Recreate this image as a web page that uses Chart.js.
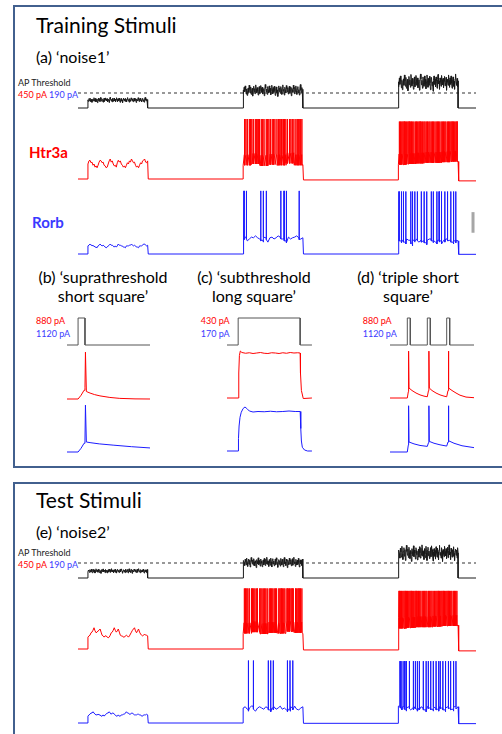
<!DOCTYPE html>
<html>
<head>
<meta charset="utf-8">
<title>Training and test stimuli</title>
<script src="https://cdn.jsdelivr.net/npm/chart.js@4.4.1/dist/chart.umd.min.js"></script>
<style>
  html, body { margin: 0; padding: 0; background: #fff; }
  body { width: 502px; height: 734px; position: relative; overflow: hidden; font-family: Lato, "Open Sans", sans-serif; color: #000; }
  .box { position: absolute; border: 2px solid #42608e; }
  .t { position: absolute; white-space: nowrap; line-height: 1; }
  .h1 { font-size: 21px; }
  .h2 { font-size: 16px; }
  .sm { font-size: 9px; color: #222; }
  .cell { font-size: 15px; font-weight: bold; }
  .sub { position: absolute; width: 180px; text-align: center; font-size: 16px; line-height: 18.5px; }
  .red { color: #ff0000; }
  .blue { color: #3a3aff; }
  canvas { position: absolute; }
</style>
</head>
<body>
<div class="box" style="left:13px; top:5px; width:520px; height:459px;"></div>
<div class="box" style="left:13px; top:482px; width:520px; height:300px;"></div>

<div class="t h1" style="left:36px; top:14px;">Training Stimuli</div>
<div class="t h2" style="left:36px; top:49px;">(a) ‘noise1’</div>
<div class="t sm" style="left:18px; top:78px;">AP Threshold</div>
<div class="t sm" style="left:18px; top:89.5px;"><span class="red">450 pA</span> <span class="blue">190 pA</span></div>
<div class="t cell red" style="left:29px; top:145px;">Htr3a</div>
<div class="t cell blue" style="left:32px; top:215px;">Rorb</div>

<div class="sub" style="left:13px; top:268px;">(b) ‘suprathreshold<br>short square’</div>
<div class="sub" style="left:164px; top:268px;">(c) ‘subthreshold<br>long square’</div>
<div class="sub" style="left:318px; top:268px;">(d) ‘triple short<br>square’</div>
<div class="t sm red" style="left:36px; top:316px;">880 pA</div>
<div class="t sm blue" style="left:36px; top:328.7px;">1120 pA</div>
<div class="t sm red" style="left:200.7px; top:316px;">430 pA</div>
<div class="t sm blue" style="left:200.7px; top:328.7px;">170 pA</div>
<div class="t sm red" style="left:362.7px; top:316px;">880 pA</div>
<div class="t sm blue" style="left:362.7px; top:328.7px;">1120 pA</div>

<div class="t h1" style="left:36px; top:489px;">Test Stimuli</div>
<div class="t h2" style="left:36px; top:524px;">(e) ‘noise2’</div>
<div class="t sm" style="left:18px; top:548px;">AP Threshold</div>
<div class="t sm" style="left:18px; top:559.7px;"><span class="red">450 pA</span> <span class="blue">190 pA</span></div>

<script>
// ---------- noise stimuli (time in s, current in pA) ----------
const noiseEpochs = [[0.5, 3.5], [8.3, 11.3], [16.1, 19.1]];
const noiseEnd = 20;
const apThreshold = 450;
const noise1Amp = [230, 510, 740];
const noise2Amp = [200, 445, 710];
// noise as percent of the epoch amplitude
const noise1Pct = [6,-14,22,-4,30,8,-18,12,-26,4,18,-8,34,10,-12,24,-20,2,16,-30,8,28,-6,14,-16,36,12,-10,20,-2,-24,10,26,-14,4,32,16,-8,22,-18,
  2,14,-28,8,38,18,-6,12,-20,26,4,-12,30,-4,16,-22,6,34,10,-16,20,-8,28,2,-26,14,24,-10,6,-32,12,30,-4,18,-14,26,8,-20,16,36,
  -2,10,-24,22,4,-12,32,14,-6,20,-18,8,28,-10,2,24,-28,16,6,-8,34,12,-16,22,-4,30,0,-20,14,26,-12,8,-24,18,38,4,-8,20,-14,10];
const noise2Pct = [-6,18,4,-16,26,10,-12,34,2,-22,14,28,-8,20,-26,6,38,12,-4,22,-14,30,8,-18,16,2,-30,24,12,-6,36,-10,18,4,-20,28,14,-2,-24,10,
  22,-12,32,6,-16,26,-4,40,16,-8,12,-22,24,2,-14,34,8,-26,18,30,-6,14,-18,4,28,-10,36,20,-2,-28,12,24,-8,16,-20,32,6,-12,26,10,
  -24,18,38,-4,8,-16,28,14,-30,20,2,-10,34,12,-6,24,-18,6,30,-14,16,40,-2,10,-22,26,8,-12,20,-8,32,4,-26,14,22,-4,18,-16,28,6];

// ---------- Htr3a responses (mV) ----------
const htr3aN1Rest = [-72, -72, -73.5, -75];
const htr3aN1Sub = [-48,-43,-42,-46,-45,-50,-48,-53,-51,-54,-50,-45,-42,-43,-46,-45,-50,-51,-54,-53,
  -48,-43,-40,-45,-43,-48,-51,-50,-53,-46,-42,-45,-43,-48,-50,-53,-51,-54,-50,-46,
  -48,-43,-45,-40,-43,-46,-45,-50,-53,-51,-54,-50,-46,-48,-43,-42,-40,-45,-46,-43];
const htr3aN1Base2 = [-50, -48, -51, -49, -50, -47, -50, -49];
const htr3aN1Spikes2 = [8.36,8.43,8.5,8.6,8.66,8.73,8.8,8.9,8.97,9.04,9.11,9.2,9.27,9.34,9.45,9.52,9.59,9.66,9.75,9.82,
  9.89,9.99,10.06,10.13,10.2,10.3,10.37,10.44,10.52,10.62,10.69,10.76,10.84,10.94,11.01,11.08,11.15,11.24];
const htr3aN1Base3 = [-49, -48, -47, -46, -46, -45, -44, -44];
const htr3aN1Spikes3 = [16.14,16.2,16.26,16.32,16.38,16.44,16.5,16.57,16.63,16.69,16.75,16.81,16.87,16.94,17.0,17.06,17.12,17.18,
  17.24,17.31,17.37,17.43,17.49,17.55,17.62,17.68,17.74,17.8,17.86,17.93,17.99,18.05,18.11,18.17,18.24,18.3,18.36,18.42,
  18.48,18.55,18.61,18.67,18.73,18.79,18.86,18.92,18.98,19.04];
const htr3aN1Peak = [24, 20];

const htr3aN2Rest = [-72, -72, -73.5, -75];
const htr3aN2Sub = [-53,-51,-50,-46,-45,-42,-38,-43,-46,-45,-43,-42,-40,-45,-50,-51,-53,-51,-51,-53,
  -54,-53,-50,-46,-45,-42,-38,-42,-45,-43,-40,-45,-50,-51,-51,-53,-53,-51,-50,-51,
  -53,-51,-48,-45,-42,-40,-38,-43,-46,-43,-40,-45,-48,-50,-51,-50,-48,-50,-50,-51];
const htr3aN2Base2 = [-47, -45, -48, -46, -47, -44, -46, -47];
const htr3aN2Spikes2 = [8.35,8.41,8.47,8.53,8.6,8.7,8.76,8.82,8.88,8.95,9.01,9.12,9.18,9.24,9.3,9.37,9.43,9.5,9.6,9.66,9.72,
  9.78,9.85,9.91,9.97,10.08,10.14,10.2,10.26,10.33,10.39,10.5,10.56,10.62,10.69,10.75,10.81,10.92,10.98,11.04,11.1,11.17,11.24];
const htr3aN2Base3 = [-39, -38, -37, -37, -36, -35, -35, -34];
const htr3aN2Spikes3 = [16.13,16.19,16.25,16.31,16.37,16.43,16.49,16.55,16.61,16.67,16.73,16.79,16.86,16.92,16.98,17.04,17.1,
  17.16,17.22,17.29,17.35,17.41,17.47,17.53,17.6,17.66,17.72,17.78,17.84,17.91,17.97,18.03,18.09,18.16,18.22,18.28,18.34,
  18.41,18.47,18.53,18.59,18.66,18.72,18.78,18.85,18.91,18.97,19.03];
const htr3aN2Peak = [25, 21];

// ---------- Rorb responses (mV) ----------
const rorbN1Rest = [-75, -75, -75, -75.5];
const rorbN1Sub = [-62,-61,-59,-61,-61,-62,-62,-64,-64,-65,-62,-61,-59,-61,-62,-61,-62,-64,-65,-64,
  -62,-61,-59,-61,-61,-62,-64,-62,-64,-62,-59,-61,-61,-62,-62,-64,-64,-65,-62,-62,
  -62,-61,-61,-59,-61,-62,-61,-62,-64,-64,-65,-62,-62,-62,-61,-59,-59,-61,-62,-61];
const rorbN1Base2 = [-49,-48,-54,-51,-48,-49,-46,-49,-51,-53,-48,-49,-56,-49,-48,-51,-49,-46,-48,-51,-54,-49,-48,-51,-49,-48,-46,-49,-51,-49];
const rorbN1Spikes2 = [8.34, 8.46, 9.18, 9.30, 9.46, 10.19, 10.35, 10.47, 11.11];
const rorbN1Base3 = [-51,-54,-53,-56,-51,-53,-59,-53,-54,-51,-56,-53,-54,-57,-53,-51,-54,-53,-56,-53,-54,-59,-53,-51,-54,-53,-56,-54,-53,-54];
const rorbN1Spikes3 = [16.13,16.25,16.35,16.47,16.72,16.80,16.92,17.05,17.25,17.39,17.52,17.75,17.85,18.03,18.14,18.26,18.43,18.56,18.73,18.86,18.98];
const rorbN1Peak = [26, 25];

const rorbN2Rest = [-75, -75, -75.5, -76];
const rorbN2Sub = [-64,-62,-61,-59,-59,-57,-59,-61,-62,-62,-61,-62,-62,-64,-64,-62,-64,-62,-61,-59,
  -59,-57,-59,-61,-59,-59,-61,-62,-64,-64,-62,-64,-64,-62,-62,-61,-61,-59,-57,-59,
  -59,-61,-61,-59,-59,-61,-62,-62,-62,-61,-61,-62,-62,-64,-64,-62,-62,-62,-61,-62];
const rorbN2Base2 = [-51,-49,-53,-51,-48,-53,-56,-51,-49,-51,-53,-49,-51,-54,-51,-49,-53,-51,-48,-53,-51,-54,-53,-49,-51,-48,-53,-54,-51,-49];
const rorbN2Spikes2 = [8.56, 8.81, 9.56, 9.68, 9.81, 10.52, 10.65, 10.79];
const rorbN2Base3 = [-48,-51,-49,-53,-51,-49,-54,-51,-49,-53,-51,-49,-51,-54,-49,-51,-53,-49,-51,-53,-49,-51,-54,-51,-49,-51,-53,-49,-51,-49];
const rorbN2Spikes3 = [16.18,16.27,16.38,16.48,16.65,16.85,16.95,17.05,17.15,17.35,17.49,17.60,17.72,17.85,17.99,18.12,18.2,18.33,18.46,18.61,18.72,18.86,18.99];
const rorbN2Peak = [25, 24];

const scaleBar = [-41, -8]; // mV, grey bar at the end of (a)

// ---------- (b) suprathreshold short square, time in ms ----------
const bStimT = [0, 4.8, 4.8, 7.8, 7.8, 36];
const bStimI = [0, 0, 880, 880, 0, 0];
const bHtr3aT = [0, 4.8, 6.1, 7.4, 7.8, 8.0, 8.4, 10, 12, 14.3, 18.6, 22.9, 29.5, 36];
const bHtr3aV = [-70, -70, -64, -56, -52, 5, -58, -60.5, -63, -65, -67.5, -69, -69.8, -70];
const bRorbT = [0, 4.8, 6.1, 7.4, 7.8, 8.0, 8.4, 10, 14, 20, 28, 36];
const bRorbV = [-75, -75, -69, -61, -56, 0, -59, -60, -62, -64, -66.5, -68.5];

// ---------- (c) subthreshold long square, time in s ----------
const cStimT = [0, 0.18, 0.18, 1.18, 1.18, 1.37];
const cStimI = [0, 0, 430, 430, 0, 0];
const cHtr3aT = [0, 0.18, 0.19, 0.2, 0.215, 0.24, 0.3, 0.36, 0.42, 0.48, 0.54, 0.6, 0.66, 0.72, 0.78, 0.84, 0.9, 0.96, 1.02, 1.08, 1.14, 1.18, 1.185, 1.2, 1.23, 1.37];
const cHtr3aV = [-70, -70, -60, -53, -51.2, -51.8, -52.1, -51.9, -52.2, -52.0, -51.8, -52.1, -52.2, -51.9, -52.0, -52.2, -51.9, -52.1, -51.8, -52.0, -51.9, -52.0, -60, -67, -70.2, -70];
const cRorbT = [0, 0.18, 0.185, 0.195, 0.21, 0.23, 0.26, 0.29, 0.32, 0.36, 0.42, 0.5, 0.6, 0.7, 0.8, 0.9, 1.0, 1.1, 1.18, 1.19, 1.2, 1.215, 1.25, 1.3, 1.37];
const cRorbV = [-75, -75, -70, -65, -61.5, -59.5, -58, -57.4, -58, -59, -59.4, -59.2, -59.3, -59.1, -59.3, -59.2, -59.0, -59.2, -59.2, -66, -71, -73.5, -74.6, -75, -75];

// ---------- (d) triple short square, time in ms ----------
const dStimT = [0, 17.3, 17.3, 20.3, 20.3, 37.3, 37.3, 40.3, 40.3, 56.7, 56.7, 59.7, 59.7, 84];
const dStimI = [0, 0, 880, 880, 0, 0, 880, 880, 0, 0, 880, 880, 0, 0];
const dHtr3aT = [0, 17.3, 18.3, 18.6, 19, 22, 26, 30, 34, 37.3, 38.5, 38.9, 39.3, 42, 46, 50, 54, 56.7, 58, 58.4, 58.8, 62, 66, 70, 76, 84];
const dHtr3aV = [-70, -70, -60, 5, -54, -58, -62, -65, -67, -68, -58, 5, -54, -58, -62, -65, -67, -68, -58, 5, -54, -58, -62, -65.5, -68.5, -69.5];
const dRorbT = [0, 17.3, 18.3, 18.6, 19, 24, 30, 37.3, 38.5, 38.9, 39.3, 44, 50, 56.7, 58, 58.4, 58.8, 64, 72, 84];
const dRorbV = [-75, -75, -64, -1, -59, -62, -64.5, -66, -60, -1, -58, -61, -63.5, -65.5, -59, -1, -57, -61, -65, -68];

const RED = '#ff0000', BLUE = '#1c1cff', INK = '#1a1a1a', GREY = '#555';

// noise stimulus: epoch amplitude times (1 + noise %)
function stimTrace(amps, pct) {
  const pts = [{x: 0, y: 0}];
  noiseEpochs.forEach(([t0, t1], k) => {
    const dt = (t1 - t0) / (pct.length - 1);
    pts.push({x: t0, y: 0});
    pct.forEach((p, i) => pts.push({x: t0 + i * dt, y: amps[k] * (1 + p / 100)}));
    pts.push({x: t1, y: 0});
  });
  pts.push({x: noiseEnd, y: 0});
  return pts;
}

// membrane trace: resting levels, per-epoch samples, spike times
function cellTrace(rest, epochs, shape) {
  const pts = [{x: 0, y: rest[0]}];
  epochs.forEach((ep, k) => {
    const [t0, t1] = noiseEpochs[k];
    const n = ep.v.length, dt = (t1 - t0) / (n - 1);
    const seg = [];
    ep.v.forEach((v, i) => seg.push({x: t0 + i * dt, y: v}));
    (ep.spikes || []).forEach(ts => {
      const b = ep.v[Math.min(n - 1, Math.floor((ts - t0) / dt))];
      seg.push({x: ts, y: b + shape.jump}, {x: ts + shape.rise, y: ep.peak}, {x: ts + shape.fall, y: b - shape.dip});
    });
    seg.sort((a, b) => a.x - b.x);
    pts.push({x: t0, y: rest[k]}, ...seg, {x: t1 + 0.03, y: rest[k + 1]});
  });
  pts.push({x: noiseEnd, y: rest[epochs.length]});
  return pts;
}

const xy = (T, V) => T.map((t, i) => ({x: t, y: V[i]}));

// linear axis where value `val` lands on page pixel `px`
function xAxis(val, px, perPx, left, w) {
  const min = val - (px - left) * perPx;
  return {type: 'linear', display: false, min: min, max: min + w * perPx};
}
function yAxis(val, px, perPx, top, h) {
  const max = val + (px - top) * perPx;
  return {type: 'linear', display: false, min: max - h * perPx, max: max};
}

function line(data, color, axis, extra) {
  return Object.assign({data: data, borderColor: color, borderWidth: 1, yAxisID: axis, pointRadius: 0, tension: 0, fill: false}, extra || {});
}

function panel(box, scales, datasets) {
  const cv = document.createElement('canvas');
  cv.width = box.w; cv.height = box.h;
  cv.style.left = box.x + 'px'; cv.style.top = box.y + 'px';
  cv.style.width = box.w + 'px'; cv.style.height = box.h + 'px';
  document.body.appendChild(cv);
  new Chart(cv, {
    type: 'line',
    data: {datasets: datasets},
    options: {
      responsive: false, animation: false, devicePixelRatio: 1,
      layout: {padding: 0},
      plugins: {legend: {display: false}, tooltip: {enabled: false}},
      scales: scales
    }
  });
}

const redSpike = {jump: 17, rise: 0.006, fall: 0.014, dip: 0};
const blueSpike = {jump: 0, rise: 0.003, fall: 0.007, dip: 3};

function noisePanel(top, h, amps, pct, red, blue, withBar) {
  const box = {x: 70, y: top, w: 412, h: h};
  const sets = [
    line(stimTrace(amps, pct), INK, 'yI'),
    line([{x: 0, y: apThreshold}, {x: noiseEnd, y: apThreshold}], '#333', 'yI', {borderDash: [3, 3]}),
    line(cellTrace(red.rest, red.epochs, redSpike), RED, 'yR'),
    line(cellTrace(blue.rest, blue.epochs, blueSpike), BLUE, 'yB')
  ];
  if (withBar) sets.push(line([{x: 19.85, y: scaleBar[0]}, {x: 19.85, y: scaleBar[1]}], '#a6a6a6', 'yB', {borderWidth: 3}));
  return {box, sets};
}

// (a) training noise1
const a = noisePanel(64, 200, noise1Amp, noise1Pct,
  {rest: htr3aN1Rest, epochs: [{v: htr3aN1Sub}, {v: htr3aN1Base2, spikes: htr3aN1Spikes2, peak: htr3aN1Peak[0]}, {v: htr3aN1Base3, spikes: htr3aN1Spikes3, peak: htr3aN1Peak[1]}]},
  {rest: rorbN1Rest, epochs: [{v: rorbN1Sub}, {v: rorbN1Base2, spikes: rorbN1Spikes2, peak: rorbN1Peak[0]}, {v: rorbN1Base3, spikes: rorbN1Spikes3, peak: rorbN1Peak[1]}]},
  true);
panel(a.box, {
  x: xAxis(0, 78, 1 / 19.9, a.box.x, a.box.w),
  yI: yAxis(0, 108, 30, a.box.y, a.box.h),
  yR: yAxis(-72, 179, 1.6, a.box.y, a.box.h),
  yB: yAxis(-75, 254, 1.6, a.box.y, a.box.h)
}, a.sets);

// (e) test noise2
const e = noisePanel(540, 194, noise2Amp, noise2Pct,
  {rest: htr3aN2Rest, epochs: [{v: htr3aN2Sub}, {v: htr3aN2Base2, spikes: htr3aN2Spikes2, peak: htr3aN2Peak[0]}, {v: htr3aN2Base3, spikes: htr3aN2Spikes3, peak: htr3aN2Peak[1]}]},
  {rest: rorbN2Rest, epochs: [{v: rorbN2Sub}, {v: rorbN2Base2, spikes: rorbN2Spikes2, peak: rorbN2Peak[0]}, {v: rorbN2Base3, spikes: rorbN2Spikes3, peak: rorbN2Peak[1]}]},
  false);
panel(e.box, {
  x: xAxis(0, 78, 1 / 19.9, e.box.x, e.box.w),
  yI: yAxis(0, 578, 30, e.box.y, e.box.h),
  yR: yAxis(-72, 649, 1.6, e.box.y, e.box.h),
  yB: yAxis(-75, 723, 1.6, e.box.y, e.box.h)
}, e.sets);

// (b)
const bBox = {x: 60, y: 310, w: 95, h: 150};
panel(bBox, {
  x: xAxis(0, 67, 36 / 83, bBox.x, bBox.w),
  yI: yAxis(0, 345, 880 / 27, bBox.y, bBox.h),
  yR: yAxis(-70, 399, 1.6, bBox.y, bBox.h),
  yB: yAxis(-75, 452, 1.6, bBox.y, bBox.h)
}, [line(xy(bStimT, bStimI), GREY, 'yI'), line(xy(bHtr3aT, bHtr3aV), RED, 'yR'), line(xy(bRorbT, bRorbV), BLUE, 'yB')]);

// (c)
const cBox = {x: 220, y: 310, w: 100, h: 150};
panel(cBox, {
  x: xAxis(0, 227, 1 / 62, cBox.x, cBox.w),
  yI: yAxis(0, 345, 430 / 27, cBox.y, cBox.h),
  yR: yAxis(-70, 398, 0.4, cBox.y, cBox.h),
  yB: yAxis(-75, 451, 0.4, cBox.y, cBox.h)
}, [line(xy(cStimT, cStimI), GREY, 'yI'), line(xy(cHtr3aT, cHtr3aV), RED, 'yR'), line(xy(cRorbT, cRorbV), BLUE, 'yB')]);

// (d)
const dBox = {x: 384, y: 310, w: 96, h: 150};
panel(dBox, {
  x: xAxis(0, 390, 1, dBox.x, dBox.w),
  yI: yAxis(0, 345, 880 / 27, dBox.y, dBox.h),
  yR: yAxis(-70, 398, 1.6, dBox.y, dBox.h),
  yB: yAxis(-75, 452, 1.6, dBox.y, dBox.h)
}, [line(xy(dStimT, dStimI), GREY, 'yI'), line(xy(dHtr3aT, dHtr3aV), RED, 'yR'), line(xy(dRorbT, dRorbV), BLUE, 'yB')]);
</script>
</body>
</html>
